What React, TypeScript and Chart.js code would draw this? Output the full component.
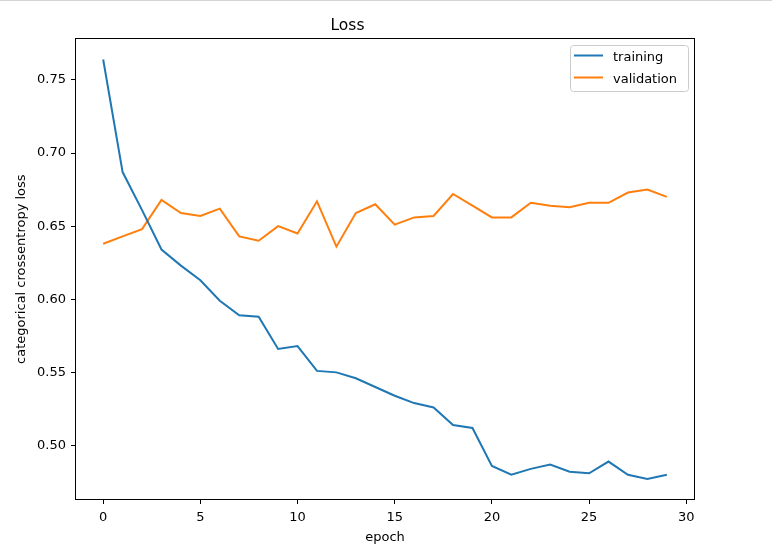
import React, { useEffect, useRef } from "react";
import { Chart, registerables } from "chart.js";

Chart.register(...registerables);

const epochs = [0, 1, 2, 3, 4, 5, 6, 7, 8, 9, 10, 11, 12, 13, 14, 15, 16, 17, 18, 19, 20, 21, 22, 23, 24, 25, 26, 27, 28, 29];
const training = [0.764, 0.687, 0.661, 0.634, 0.623, 0.613, 0.599, 0.589, 0.588, 0.566, 0.568, 0.551, 0.550, 0.546, 0.540, 0.534, 0.529, 0.526, 0.514, 0.512, 0.486, 0.480, 0.484, 0.487, 0.482, 0.481, 0.489, 0.480, 0.477, 0.480];
const validation = [0.638, 0.643, 0.648, 0.668, 0.659, 0.657, 0.662, 0.643, 0.640, 0.650, 0.645, 0.667, 0.636, 0.659, 0.665, 0.651, 0.656, 0.657, 0.672, 0.664, 0.656, 0.656, 0.666, 0.664, 0.663, 0.666, 0.666, 0.673, 0.675, 0.670];
const xTicks = [0, 5, 10, 15, 20, 25, 30];
const yTicks = [0.5, 0.55, 0.6, 0.65, 0.7, 0.75];
const seriesNames = ["training", "validation"];
const seriesColors = ["#1f77b4", "#ff7f0e"];

const FONT = "'DejaVu Sans', sans-serif";

const framePlugin = {
  id: "frameAndLegend",
  afterDraw(chart: any) {
    const { ctx, chartArea } = chart;
    ctx.save();
    // top grey line of the window
    ctx.fillStyle = "#d4d4d4";
    ctx.fillRect(0, 0, chart.width, 1);
    // frame
    ctx.strokeStyle = "#000";
    ctx.lineWidth = 1;
    const l = Math.round(chartArea.left) + 0.5;
    const t = Math.round(chartArea.top) + 0.5;
    const r = Math.round(chartArea.right) - 0.5;
    const b = Math.round(chartArea.bottom) - 0.5;
    ctx.strokeRect(l, t, r - l, b - t);
    // legend
    const bx = 570.5, by = 45.5, bw = 118, bh = 46;
    ctx.beginPath();
    ctx.roundRect(bx, by, bw, bh, 3);
    ctx.fillStyle = "rgba(255,255,255,0.8)";
    ctx.fill();
    ctx.strokeStyle = "#cccccc";
    ctx.stroke();
    seriesNames.forEach((name, i) => {
      const y = 55.5 + i * 22;
      ctx.beginPath();
      ctx.moveTo(574, y);
      ctx.lineTo(603, y);
      ctx.strokeStyle = seriesColors[i];
      ctx.lineWidth = 2;
      ctx.stroke();
      ctx.fillStyle = "#000";
      ctx.font = `13px ${FONT}`;
      ctx.textBaseline = "middle";
      ctx.textAlign = "left";
      ctx.fillText(name, 613, y + 2);
    });
    ctx.restore();
  },
};

export default function App() {
  const ref = useRef<HTMLCanvasElement | null>(null);
  useEffect(() => {
    document.body.style.margin = "0";
    const canvas = ref.current!;
    const chart = new Chart(canvas, {
      type: "line",
      data: {
        datasets: [
          {
            label: seriesNames[0],
            data: epochs.map((e, i) => ({ x: e, y: training[i] })),
            borderColor: seriesColors[0],
            backgroundColor: seriesColors[0],
            borderWidth: 2,
            pointRadius: 0,
            tension: 0,
          },
          {
            label: seriesNames[1],
            data: epochs.map((e, i) => ({ x: e, y: validation[i] })),
            borderColor: seriesColors[1],
            backgroundColor: seriesColors[1],
            borderWidth: 2,
            pointRadius: 0,
            tension: 0,
          },
        ],
      },
      options: {
        animation: false,
        responsive: false,
        maintainAspectRatio: false,
        layout: { padding: { left: 0, right: 77, top: 0, bottom: 0 } },
        plugins: {
          legend: { display: false },
          tooltip: { enabled: false },
          title: {
            display: true,
            text: "Loss",
            color: "#000",
            font: { family: FONT, size: 15.5, weight: "normal" },
            padding: { top: 16.4, bottom: 3.3 },
          },
        },
        scales: {
          x: {
            type: "linear",
            min: -1.45,
            max: 30.45,
            afterBuildTicks: (s: any) => {
              s.ticks = xTicks.map((v) => ({ value: v }));
            },
            afterFit: (s: any) => {
              s.height = 58;
            },
            ticks: {
              color: "#000",
              font: { family: FONT, size: 13 },
              padding: 5.5,
              maxRotation: 0,
              autoSkip: false,
              callback: (v: any) => String(v),
            },
            grid: {
              display: true,
              drawOnChartArea: false,
              drawTicks: true,
              tickLength: 4,
              tickColor: "#000",
              tickWidth: 1,
            },
            border: { display: false },
            title: {
              display: true,
              text: "epoch",
              color: "#000",
              font: { family: FONT, size: 13 },
              padding: { top: 0, bottom: 12.5 },
            },
          },
          y: {
            type: "linear",
            min: 0.4627,
            max: 0.7785,
            afterBuildTicks: (s: any) => {
              s.ticks = yTicks.map((v) => ({ value: v }));
            },
            afterFit: (s: any) => {
              s.width = 75;
            },
            ticks: {
              color: "#000",
              font: { family: FONT, size: 13 },
              padding: 5,
              autoSkip: false,
              callback: (v: any) => Number(v).toFixed(2),
            },
            grid: {
              display: true,
              drawOnChartArea: false,
              drawTicks: true,
              tickLength: 4,
              tickColor: "#000",
              tickWidth: 1,
            },
            border: { display: false },
            title: {
              display: true,
              text: "categorical crossentropy loss",
              color: "#000",
              font: { family: FONT, size: 13 },
              padding: { top: 14, bottom: 0 },
            },
          },
        },
      },
      plugins: [framePlugin],
    });
    return () => chart.destroy();
  }, []);
  return <canvas ref={ref} width={772} height={558} style={{ display: "block", width: 772, height: 558 }} />;
}
